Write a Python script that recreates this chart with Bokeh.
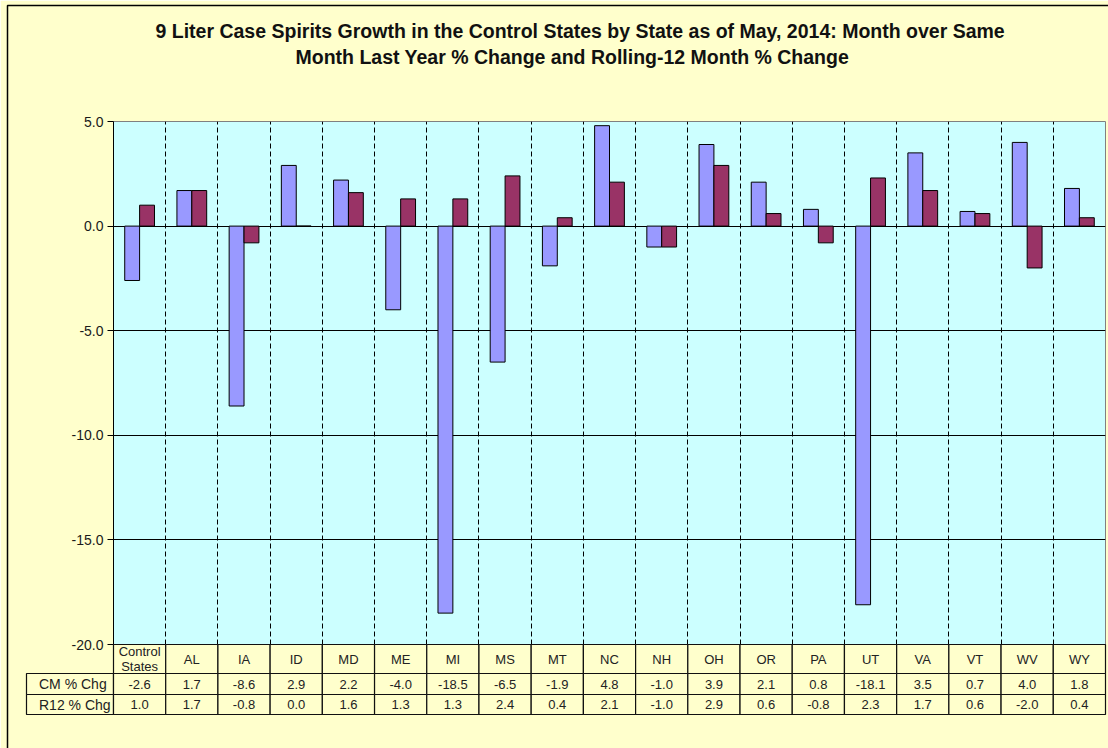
import numpy as np
from bokeh.plotting import figure
from bokeh.models import Range1d, FixedTicker, PrintfTickFormatter, ColumnDataSource, Title
from bokeh.transform import dodge
from bokeh.embed import file_html
from bokeh.resources import INLINE
from bokeh.core.properties import value

# ---------------- data ----------------
states = ["Control\nStates", "AL", "IA", "ID", "MD", "ME", "MI", "MS", "MT", "NC",
          "NH", "OH", "OR", "PA", "UT", "VA", "VT", "WV", "WY"]
cm_chg = [-2.6, 1.7, -8.6, 2.9, 2.2, -4.0, -18.5, -6.5, -1.9, 4.8,
          -1.0, 3.9, 2.1, 0.8, -18.1, 3.5, 0.7, 4.0, 1.8]
r12_chg = [1.0, 1.7, -0.8, 0.0, 1.6, 1.3, 1.3, 2.4, 0.4, 2.1,
           -1.0, 2.9, 0.6, -0.8, 2.3, 1.7, 0.6, -2.0, 0.4]
series_names = ["CM % Chg", "R12 % Chg"]
y_ticks = [5, 0, -5, -10, -15, -20]
title_lines = ["9 Liter Case Spirits Growth in the Control States by State as of May, 2014: Month over Same",
               "Month Last Year % Change and Rolling-12 Month % Change"]

# ---------------- styles / layout ----------------
CREAM = "#FFFFCC"
CYAN = "#CCFFFF"
BLUE = "#9999FF"
MAROON = "#993366"
FONT = "Liberation Sans"

W, H = 1108, 748
LEFT, RIGHT, TOP, BOTTOM = 113, 3, 121, 104
n = len(states)
YMIN, YMAX = -20, 5
frame_w = W - LEFT - RIGHT
frame_h = H - TOP - BOTTOM
px_x = n / frame_w          # data units per pixel (x)
px_y = (YMAX - YMIN) / frame_h


def sx(px):   # canvas pixel -> data x
    return (px - LEFT) * px_x


def sy(py):   # canvas pixel -> data y
    return YMAX - (py - TOP) * px_y


p = figure(width=W, height=H, output_backend="svg", toolbar_location=None, title=None,
           x_range=Range1d(0, n), y_range=Range1d(YMIN, YMAX), x_axis_location=None,
           min_border_left=LEFT, min_border_right=RIGHT, min_border_top=TOP,
           min_border_bottom=BOTTOM)
p.background_fill_color = CYAN
p.border_fill_color = CREAM
p.outline_line_color = "#808080"
p.outline_line_width = 1

# spacer between title block and plot area, then the two title lines
p.add_layout(Title(text=" ", text_font=FONT, text_font_size="1px", standoff=50), "above")
for txt, off in [(title_lines[1], 182), (title_lines[0], 42)]:
    p.add_layout(Title(text=txt, align="left", text_font=FONT, text_font_size="19.5px",
                       text_font_style="bold", text_color="#111111", offset=off,
                       standoff=2), "above")

yax = p.yaxis[0]
yax.ticker = FixedTicker(ticks=y_ticks)
yax.formatter = PrintfTickFormatter(format="%.1f")
yax.major_label_text_font = FONT
yax.major_label_text_font_size = "14px"
yax.major_label_text_color = "#1a1a1a"
yax.major_tick_in = 0
yax.major_tick_out = 6
yax.minor_tick_line_color = None
yax.axis_line_color = "#000000"
yax.major_tick_line_color = "#000000"
yax.major_label_standoff = 4

p.ygrid.ticker = FixedTicker(ticks=y_ticks[1:-1])
p.ygrid.grid_line_color = "black"
p.ygrid.grid_line_width = 1
p.xgrid.ticker = FixedTicker(ticks=list(range(1, n)))
p.xgrid.grid_line_color = "black"
p.xgrid.grid_line_dash = "5 3"
p.xgrid.grid_line_width = 1

# ---------------- bars ----------------
bw = 0.285
src = ColumnDataSource(dict(xc=np.arange(n) + 0.5, cm=cm_chg, r12=r12_chg))
p.vbar(x=dodge("xc", -bw / 2), top="cm", bottom=0, width=bw, source=src,
       fill_color=BLUE, line_color="black", line_width=1)
p.vbar(x=dodge("xc", bw / 2), top="r12", bottom=0, width=bw, source=src,
       fill_color=MAROON, line_color="black", line_width=1)

# ---------------- data table below the plot ----------------
y_hdr_top = YMIN
y_hdr_bot = sy(673)
row_tops = [y_hdr_bot, sy(694)]
row_bots = [sy(694), sy(714)]
leg_left = sx(26)

cl, cr, ct, cb = [], [], [], []
for i in range(n):
    cl.append(i); cr.append(i + 1); ct.append(y_hdr_top); cb.append(y_hdr_bot)
for r in range(2):
    cl.append(leg_left); cr.append(0); ct.append(row_tops[r]); cb.append(row_bots[r])
    for i in range(n):
        cl.append(i); cr.append(i + 1); ct.append(row_tops[r]); cb.append(row_bots[r])
p.quad(left=cl, right=cr, top=ct, bottom=cb, fill_color=CREAM, line_color="#111111",
       line_width=1.2, level="overlay")

txt_kw = dict(text_align="center", text_baseline="middle", text_font=value(FONT),
              text_font_size="13px", text_color="#222222", level="overlay")
p.text(x=list(np.arange(n) + 0.5), y=[(y_hdr_top + y_hdr_bot) / 2] * n, text=states,
       text_line_height=1.05, **txt_kw)
for r, vals in enumerate([cm_chg, r12_chg]):
    p.text(x=list(np.arange(n) + 0.5), y=[(row_tops[r] + row_bots[r]) / 2] * n,
           text=[f"{v:.1f}" for v in vals], **txt_kw)

# legend keys in the table
row_mid = [(row_tops[r] + row_bots[r]) / 2 for r in range(2)]
p.scatter(x=[sx(32.5)] * 2, y=row_mid, marker="square", size=8, fill_color=[BLUE, MAROON],
          line_color="#111111", line_width=1, level="overlay")
p.text(x=[sx(38.5)] * 2, y=row_mid, text=series_names, text_align="left",
       text_baseline="middle", text_font=value(FONT), text_font_size="14px",
       text_color="#222222", level="overlay")

# outer chart border (left and top edges visible)
p.line(x=[sx(7), sx(7), sx(W + 5)], y=[sy(H + 5), sy(5), sy(5)], line_color="black",
       line_width=1.5, level="overlay")

open("out.html", "w").write(file_html(p, INLINE))
